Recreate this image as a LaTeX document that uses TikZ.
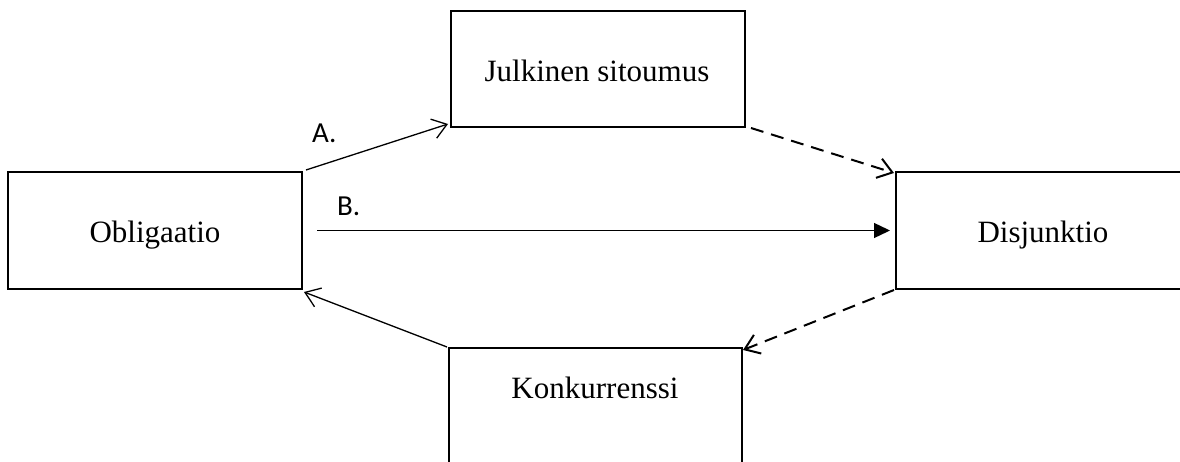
\documentclass[tikz,border=0pt]{standalone}
\usepackage{fontspec}
\setmainfont{Liberation Serif}
\newfontfamily\calibri{Carlito}
\usetikzlibrary{arrows.meta}
\begin{document}
\begin{tikzpicture}[x=1pt,y=-1pt,
  box/.style={draw,line width=2pt,rectangle,inner sep=0pt,outer sep=0pt},
  txt/.style={anchor=base,inner sep=0pt,font=\fontsize{31}{36}\selectfont},
  lbl/.style={anchor=base west,inner sep=0pt,font=\calibri\fontsize{29}{34}\selectfont},
  openarr/.style={line width=1.3pt,-{Straight Barb[length=14pt,width=20pt,line width=1.3pt]}},
  dasharr/.style={line width=2pt,dash pattern=on 13pt off 8pt,-{Straight Barb[length=14pt,width=20pt,line width=2pt]}},
  filledarr/.style={line width=1.3pt,-{Triangle[length=16pt,width=15pt]}}
]
\clip (0,0) rectangle (1180,462);
\fill[white] (0,0) rectangle (1180,462);
\node[box,minimum width=294pt,minimum height=116pt] (jul) at (598,69) {};
\node[box,minimum width=294pt,minimum height=117pt] (obl) at (155,230.5) {};
\node[box,minimum width=294pt,minimum height=117pt] (dis) at (1043,230.5) {};
\node[box,minimum width=293pt,minimum height=117pt] (kon) at (595.5,406.5) {};
\node[txt] (tjul) at (597,82) {Julkinen sitoumus};
\node[txt] (tobl) at (155,243) {Obligaatio};
\node[txt] (tdis) at (1043,243) {Disjunktio};
\node[txt] (tkon) at (595,398) {Konkurrenssi};
\node[lbl] (la) at (312,143) {A.};
\node[lbl] (lb) at (337,216) {B.};
\draw[openarr] ([shift={(4,-2)}]obl.north east) -- ([shift={(-3,-3)}]jul.south west);
\draw[dasharr] ([shift={(6,1)}]jul.south east) -- ([shift={(-2,1)}]dis.north west);
\draw[filledarr] ([shift={(15,0)}]obl.east) -- ([shift={(-6,0)}]dis.west);
\draw[dasharr] ([shift={(-2,1)}]dis.south west) -- ([shift={(1,2)}]kon.north east);
\draw[openarr] ([shift={(-2,-1)}]kon.north west) -- ([shift={(2,3)}]obl.south east);
\end{tikzpicture}
\end{document}
